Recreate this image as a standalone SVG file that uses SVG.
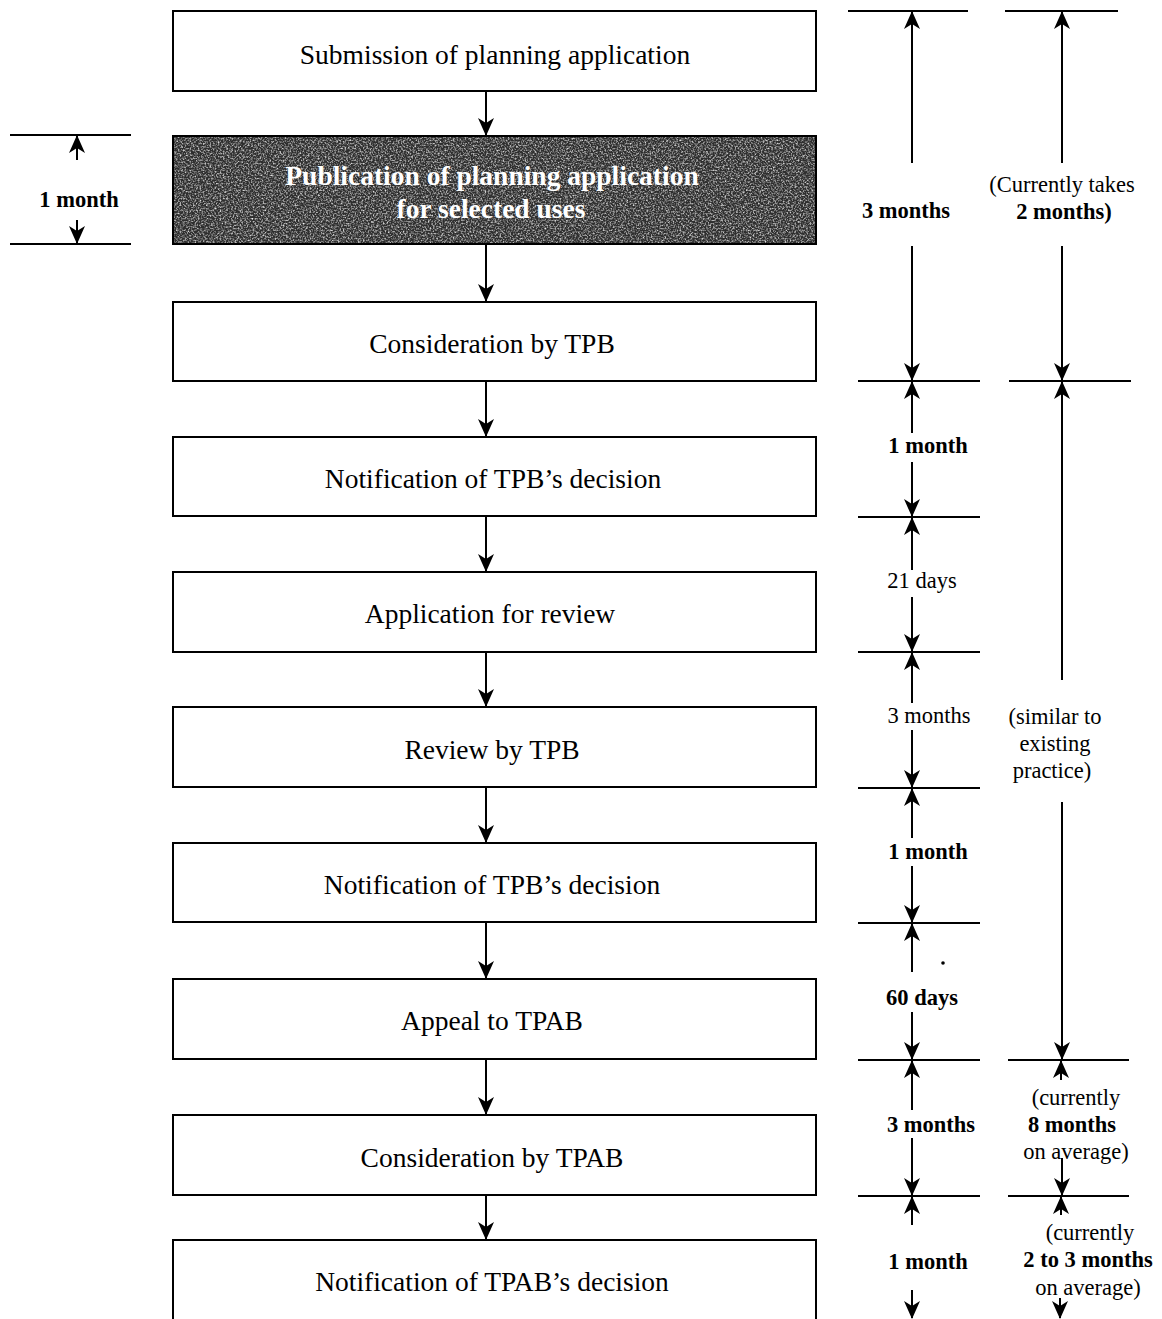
<svg xmlns="http://www.w3.org/2000/svg" width="1162" height="1319" viewBox="0 0 1162 1319">
<style>
.box{fill:#fff;stroke:#000;stroke-width:2}
.t{font-family:"Liberation Serif","Times New Roman",serif;font-size:27.5px;fill:#000;text-anchor:middle}
.s{font-family:"Liberation Serif","Times New Roman",serif;font-size:22.5px;fill:#000;text-anchor:middle}
.b{font-weight:bold}
.ln{stroke:#000;stroke-width:2;fill:none}
.ar{stroke:#000;stroke-width:2;fill:none;marker-end:url(#ah)}
</style>
<defs>
<marker id="ah" markerUnits="userSpaceOnUse" markerWidth="18" markerHeight="18" viewBox="0 0 18 18" refX="17" refY="9" orient="auto">
<path d="M18,9 L0,1 L5,9 L0,17 Z" fill="#000"/>
</marker>
<filter id="grain" x="0" y="0" width="100%" height="100%">
<feTurbulence type="fractalNoise" baseFrequency="0.6" numOctaves="2" seed="7"/>
<feColorMatrix type="matrix" values="0 0 0 0 1  0 0 0 0 1  0 0 0 0 1  2.0 0 0 0 -0.85"/>
</filter>
</defs>
<rect width="1162" height="1319" fill="#fff"/>

<g id="n1"><rect class="box" x="173" y="11" width="643" height="80"/><text class="t" x="495" y="64">Submission of planning application</text></g>
<g id="n2"><rect x="173" y="136" width="643" height="108" fill="#2e2e2e" stroke="#000" stroke-width="2"/><rect x="174" y="137" width="641" height="106" fill="#fff" filter="url(#grain)"/><text class="t b" x="492" y="185" style="fill:#fff">Publication of planning application</text><text class="t b" x="491" y="218" style="fill:#fff">for selected uses</text></g>
<g id="n3"><rect class="box" x="173" y="302" width="643" height="79"/><text class="t" x="492" y="353">Consideration by TPB</text></g>
<g id="n4"><rect class="box" x="173" y="437" width="643" height="79"/><text class="t" x="493" y="488">Notification of TPB’s decision</text></g>
<g id="n5"><rect class="box" x="173" y="572" width="643" height="80"/><text class="t" x="490" y="623">Application for review</text></g>
<g id="n6"><rect class="box" x="173" y="707" width="643" height="80"/><text class="t" x="492" y="759">Review by TPB</text></g>
<g id="n7"><rect class="box" x="173" y="843" width="643" height="79"/><text class="t" x="492" y="894">Notification of TPB’s decision</text></g>
<g id="n8"><rect class="box" x="173" y="979" width="643" height="80"/><text class="t" x="492" y="1030">Appeal to TPAB</text></g>
<g id="n9"><rect class="box" x="173" y="1115" width="643" height="80"/><text class="t" x="492" y="1167">Consideration by TPAB</text></g>
<g id="n10"><rect class="box" x="173" y="1240" width="643" height="85"/><text class="t" x="492" y="1291">Notification of TPAB’s decision</text></g>

<g id="connectors">
<line class="ar" x1="486" y1="92" x2="486" y2="135"/>
<line class="ar" x1="486" y1="245" x2="486" y2="301"/>
<line class="ar" x1="486" y1="382" x2="486" y2="436"/>
<line class="ar" x1="486" y1="517" x2="486" y2="571"/>
<line class="ar" x1="486" y1="653" x2="486" y2="706"/>
<line class="ar" x1="486" y1="788" x2="486" y2="842"/>
<line class="ar" x1="486" y1="923" x2="486" y2="978"/>
<line class="ar" x1="486" y1="1060" x2="486" y2="1114"/>
<line class="ar" x1="486" y1="1196" x2="486" y2="1239"/>
</g>

<g id="dim-left">
<line class="ln" x1="10" y1="135" x2="131" y2="135"/>
<line class="ln" x1="10" y1="244" x2="131" y2="244"/>
<line class="ar" x1="77" y1="160" x2="77" y2="136"/>
<line class="ar" x1="77" y1="220" x2="77" y2="243"/>
<text class="s b" x="79" y="207">1 month</text>
</g>

<g id="dim-col1">
<line class="ln" x1="848" y1="11" x2="968" y2="11"/>
<line class="ln" x1="858" y1="381" x2="980" y2="381"/>
<line class="ln" x1="858" y1="517" x2="980" y2="517"/>
<line class="ln" x1="858" y1="652" x2="980" y2="652"/>
<line class="ln" x1="858" y1="788" x2="980" y2="788"/>
<line class="ln" x1="858" y1="923" x2="980" y2="923"/>
<line class="ln" x1="858" y1="1060" x2="980" y2="1060"/>
<line class="ln" x1="858" y1="1196" x2="980" y2="1196"/>

<line class="ar" x1="912" y1="163" x2="912" y2="12"/>
<line class="ar" x1="912" y1="246" x2="912" y2="380"/>
<text class="s b" x="906" y="218">3 months</text>

<line class="ar" x1="912" y1="433" x2="912" y2="382"/>
<line class="ar" x1="912" y1="462" x2="912" y2="516"/>
<text class="s b" x="928" y="453">1 month</text>

<line class="ar" x1="912" y1="570" x2="912" y2="518"/>
<line class="ar" x1="912" y1="597" x2="912" y2="651"/>
<text class="s" x="922" y="588">21 days</text>

<line class="ar" x1="912" y1="703" x2="912" y2="653"/>
<line class="ar" x1="912" y1="730" x2="912" y2="787"/>
<text class="s" x="929" y="723">3 months</text>

<line class="ar" x1="912" y1="838" x2="912" y2="789"/>
<line class="ar" x1="912" y1="866" x2="912" y2="922"/>
<text class="s b" x="928" y="859">1 month</text>

<line class="ar" x1="912" y1="972" x2="912" y2="924"/>
<line class="ar" x1="912" y1="1012" x2="912" y2="1059"/>
<text class="s" x="922" y="1005" style="font-weight:600">60 days</text>

<line class="ar" x1="912" y1="1110" x2="912" y2="1061"/>
<line class="ar" x1="912" y1="1138" x2="912" y2="1195"/>
<text class="s b" x="931" y="1132">3 months</text>

<line class="ar" x1="912" y1="1225" x2="912" y2="1197"/>
<line class="ar" x1="912" y1="1290" x2="912" y2="1318"/>
<text class="s b" x="928" y="1269">1 month</text>
<circle cx="943" cy="963" r="1.8" fill="#000"/>
</g>

<g id="dim-col2">
<line class="ln" x1="1005" y1="11" x2="1118" y2="11"/>
<line class="ln" x1="1009" y1="381" x2="1131" y2="381"/>
<line class="ln" x1="1008" y1="1060" x2="1129" y2="1060"/>
<line class="ln" x1="1008" y1="1196" x2="1129" y2="1196"/>

<line class="ar" x1="1062" y1="163" x2="1062" y2="12"/>
<line class="ar" x1="1062" y1="246" x2="1062" y2="380"/>
<text class="s" x="1062" y="192">(Currently takes</text>
<text class="s b" x="1064" y="219">2 months)</text>

<line class="ar" x1="1062" y1="680" x2="1062" y2="382"/>
<line class="ar" x1="1062" y1="802" x2="1062" y2="1059"/>
<text class="s" x="1055" y="724">(similar to</text>
<text class="s" x="1055" y="751">existing</text>
<text class="s" x="1052" y="778">practice)</text>

<line class="ar" x1="1061" y1="1080" x2="1061" y2="1061"/>
<line class="ar" x1="1062" y1="1158" x2="1062" y2="1195"/>
<text class="s" x="1076" y="1105">(currently</text>
<text class="s b" x="1072" y="1132">8 months</text>
<text class="s" x="1076" y="1159">on average)</text>

<line class="ar" x1="1061" y1="1215" x2="1061" y2="1197"/>
<line class="ar" x1="1060" y1="1298" x2="1060" y2="1318"/>
<text class="s" x="1090" y="1240">(currently</text>
<text class="s b" x="1088" y="1267">2 to 3 months</text>
<text class="s" x="1088" y="1295">on average)</text>
</g>
</svg>
